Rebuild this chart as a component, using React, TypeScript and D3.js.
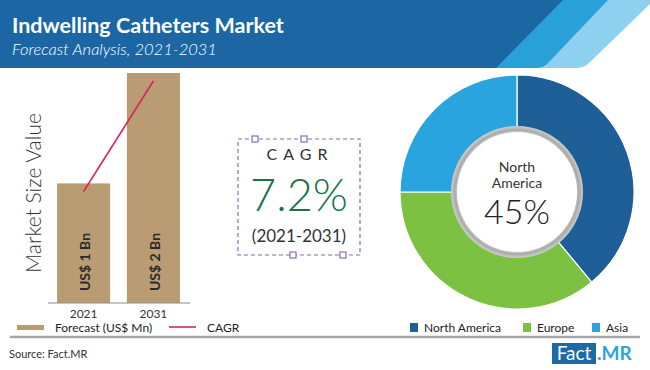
import { useEffect, useRef } from 'react';
import * as d3 from 'd3';

// Bar chart (market size, US$ Bn)
const YEARS = ['2021', '2031'];
const MARKET_SIZE = [1.04, 2.0];
const BAR_LABELS = ['US$ 1 Bn', 'US$ 2 Bn'];
const CAGR_LINE = [0.97, 1.93];

// CAGR callout
const CAGR_VALUE = '7.2%';
const CAGR_PERIOD = '(2021-2031)';

// Regional share donut
const REGIONS = ['North America', 'Europe', 'Asia'];
const REGION_SHARE = [39, 36, 25];
const REGION_COLORS = ['#1f5f98', '#7cc142', '#29a4de'];
const HIGHLIGHT = { line1: 'North', line2: 'America', value: '45%' };

const FONT = 'Lato, "Open Sans", sans-serif';

export default function App() {
  const svgRef = useRef<SVGSVGElement | null>(null);

  useEffect(() => {
    document.body.style.margin = '0';
    const el = svgRef.current;
    if (!el) return;

    const W = 650;
    const H = 370;
    d3.select(el).selectAll('*').remove();
    const svg = d3.select(el).attr('width', W).attr('height', H).style('font-family', FONT);

    svg.append('rect').attr('width', W).attr('height', H).attr('fill', '#ffffff');

    // ---- Header band with diagonal stripes
    const hh = 68;
    svg.append('path')
      .attr('d', `M640,0 L650,0 L650,4 L590,${hh - 6} Q585,${hh} 575,${hh} L540,${hh} L605,0 Z`)
      .attr('fill', '#8dd0ef');
    svg.append('path')
      .attr('d', `M0,0 L608,0 L548,${hh - 5} Q544,${hh} 536,${hh} L0,${hh} Z`)
      .attr('fill', '#2aa0d9');
    svg.append('path')
      .attr('d', `M0,0 L563,0 L496,${hh} L0,${hh} Z`)
      .attr('fill', '#1c67a3');

    svg.append('text')
      .attr('x', 12).attr('y', 33)
      .attr('fill', '#fff')
      .attr('font-size', 21.5)
      .attr('font-weight', 700)
      .text('Indwelling Catheters Market');
    svg.append('text')
      .attr('x', 12).attr('y', 55)
      .attr('fill', '#fff')
      .attr('font-size', 16.5)
      .attr('font-style', 'italic')
      .attr('font-weight', 300)
      .text('Forecast Analysis, 2021-2031');

    // ---- Bar chart
    const baseY = 303;
    const x = d3.scaleBand().domain(YEARS).range([48, 189]).paddingInner(0.24).paddingOuter(0.13);
    const y = d3.scaleLinear().domain([0, 2]).range([baseY, 73]);

    const bars = svg.append('g');
    YEARS.forEach((yr, i) => {
      bars.append('rect')
        .attr('x', x(yr)!)
        .attr('y', y(MARKET_SIZE[i]))
        .attr('width', x.bandwidth())
        .attr('height', baseY - y(MARKET_SIZE[i]))
        .attr('fill', '#b99b74');

      const cx = x(yr)! + x.bandwidth() / 2;
      bars.append('text')
        .attr('transform', `translate(${cx + 1},262) rotate(-90)`)
        .attr('text-anchor', 'middle')
        .attr('dominant-baseline', 'central')
        .attr('font-size', 14)
        .attr('font-weight', 700)
        .attr('fill', '#2b2b2b')
        .text(BAR_LABELS[i]);

      bars.append('text')
        .attr('x', cx).attr('y', 318)
        .attr('text-anchor', 'middle')
        .attr('font-size', 12)
        .attr('fill', '#333')
        .text(yr);
    });

    svg.append('line')
      .attr('x1', 48).attr('x2', 190)
      .attr('y1', baseY).attr('y2', baseY)
      .attr('stroke', '#8c8c8c').attr('stroke-width', 1);

    const cagrLine = d3.line<number>()
      .x((_, i) => x(YEARS[i])! + x.bandwidth() / 2)
      .y((d) => y(d));
    svg.append('path')
      .datum(CAGR_LINE)
      .attr('d', cagrLine)
      .attr('fill', 'none')
      .attr('stroke', '#d7265a')
      .attr('stroke-width', 1.6);

    svg.append('text')
      .attr('transform', 'translate(32,193) rotate(-90)')
      .attr('text-anchor', 'middle')
      .attr('dominant-baseline', 'central')
      .attr('font-size', 21)
      .attr('font-weight', 300)
      .attr('fill', '#333')
      .text('Market Size Value');

    // ---- CAGR box
    const box = svg.append('g');
    box.append('rect')
      .attr('x', 238).attr('y', 139)
      .attr('width', 122).attr('height', 116)
      .attr('fill', 'none')
      .attr('stroke', '#8a6bb3')
      .attr('stroke-width', 1.2)
      .attr('stroke-dasharray', '4,3');
    [[255, 139], [304, 139], [293, 255], [343, 255]].forEach(([hx, hy]) => {
      box.append('rect')
        .attr('x', hx - 3).attr('y', hy - 3)
        .attr('width', 6).attr('height', 6)
        .attr('fill', '#fff')
        .attr('stroke', '#8a6bb3')
        .attr('stroke-width', 1.2);
    });
    box.append('text')
      .attr('x', 300).attr('y', 160)
      .attr('text-anchor', 'middle')
      .attr('font-size', 16)
      .attr('letter-spacing', 6)
      .attr('fill', '#333')
      .text('CAGR');
    box.append('text')
      .attr('x', 299).attr('y', 211)
      .attr('text-anchor', 'middle')
      .attr('font-size', 45)
      .attr('font-weight', 300)
      .attr('fill', '#17744a')
      .text(CAGR_VALUE);
    box.append('text')
      .attr('x', 299).attr('y', 242)
      .attr('text-anchor', 'middle')
      .attr('font-size', 17)
      .attr('fill', '#333')
      .text(CAGR_PERIOD);

    // ---- Donut
    const dcx = 517;
    const dcy = 192;
    const outerR = 117;
    const innerR = 66;
    const pie = d3.pie<number>().sort(null).value((d) => d);
    const arc = d3.arc<d3.PieArcDatum<number>>().innerRadius(innerR - 4).outerRadius(outerR);
    const dg = svg.append('g').attr('transform', `translate(${dcx},${dcy})`);
    dg.selectAll('path.slice')
      .data(pie(REGION_SHARE))
      .join('path')
      .attr('class', 'slice')
      .attr('d', arc)
      .attr('fill', (_, i) => REGION_COLORS[i])
      .attr('stroke', '#fff')
      .attr('stroke-width', 1.2);

    const grad = svg.append('defs').append('radialGradient').attr('id', 'ring');
    grad.append('stop').attr('offset', '88%').attr('stop-color', '#e6e6e6');
    grad.append('stop').attr('offset', '94%').attr('stop-color', '#a9a9a9');
    grad.append('stop').attr('offset', '100%').attr('stop-color', '#cfcfcf');
    dg.append('circle').attr('r', innerR).attr('fill', 'url(#ring)');
    dg.append('circle').attr('r', innerR - 6).attr('fill', '#fff');

    dg.append('text')
      .attr('y', -20).attr('text-anchor', 'middle')
      .attr('font-size', 14).attr('fill', '#333')
      .text(HIGHLIGHT.line1);
    dg.append('text')
      .attr('y', -4).attr('text-anchor', 'middle')
      .attr('font-size', 14).attr('fill', '#333')
      .text(HIGHLIGHT.line2);
    dg.append('text')
      .attr('y', 32).attr('text-anchor', 'middle')
      .attr('font-size', 34).attr('font-weight', 300).attr('fill', '#222')
      .text(HIGHLIGHT.value);

    // ---- Legends
    const legY = 327;
    const lg = svg.append('g').attr('font-size', 12).attr('fill', '#222');
    lg.append('rect').attr('x', 17).attr('y', legY - 2).attr('width', 27).attr('height', 5).attr('fill', '#b99b74');
    lg.append('text').attr('x', 55).attr('y', legY).attr('dominant-baseline', 'central').text('Forecast (US$ Mn)');
    lg.append('line').attr('x1', 169).attr('x2', 196).attr('y1', legY).attr('y2', legY)
      .attr('stroke', '#d7265a').attr('stroke-width', 1.6);
    lg.append('text').attr('x', 207).attr('y', legY).attr('dominant-baseline', 'central').text('CAGR');

    const legX = [410, 523, 592];
    REGIONS.forEach((r, i) => {
      lg.append('rect').attr('x', legX[i]).attr('y', legY - 4).attr('width', 8).attr('height', 9)
        .attr('fill', REGION_COLORS[i]);
      lg.append('text').attr('x', legX[i] + 14).attr('y', legY).attr('dominant-baseline', 'central').text(r);
    });

    svg.append('line')
      .attr('x1', 10).attr('x2', 640).attr('y1', 337).attr('y2', 337)
      .attr('stroke', '#a6a6a6').attr('stroke-width', 2.5);

    // ---- Footer
    svg.append('text')
      .attr('x', 9).attr('y', 358)
      .attr('font-size', 11).attr('fill', '#333')
      .text('Source: Fact.MR');
    svg.append('rect').attr('x', 552).attr('y', 343).attr('width', 44).attr('height', 21).attr('fill', '#1e6aa6');
    svg.append('text')
      .attr('x', 574).attr('y', 360).attr('text-anchor', 'middle')
      .attr('font-size', 19).attr('fill', '#fff')
      .text('Fact');
    svg.append('text')
      .attr('x', 597).attr('y', 360)
      .attr('font-size', 19).attr('font-weight', 700).attr('fill', '#2aa4df')
      .text('.MR');
  }, []);

  return <svg ref={svgRef} style={{ display: 'block' }} />;
}
